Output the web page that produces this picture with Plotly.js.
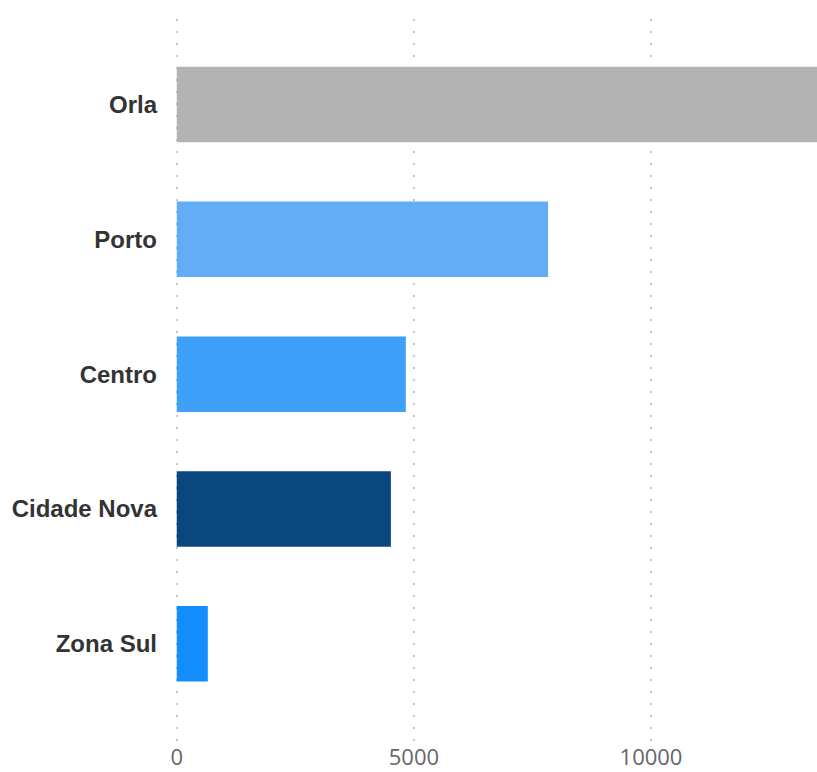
<!DOCTYPE html>
<html>
<head>
<meta charset="utf-8">
<script src="https://cdn.plot.ly/plotly-3.0.1.min.js"></script>
<style>html,body{margin:0;padding:0;background:#fff;}#chart{width:817px;height:772px;}</style>
</head>
<body>
<div id="chart"></div>
<script>
var categories = ["Orla", "Porto", "Centro", "Cidade Nova", "Zona Sul"];
var values = [13500, 7830, 4830, 4515, 655];
var barColors = ["#b3b3b3", "#61aef7", "#3fa0fa", "#0b477f", "#128dfe"];
var xTicks = [0, 5000, 10000];
var xTickLabels = ["0", "5000", "10000"];

var trace = {
  type: "bar",
  orientation: "h",
  x: values,
  y: categories,
  marker: {color: barColors},
  width: 0.56,
  hoverinfo: "x+y"
};

var layout = {
  width: 817,
  height: 772,
  margin: {l: 172, r: 0, t: 19, b: 31},
  paper_bgcolor: "#ffffff",
  plot_bgcolor: "#ffffff",
  showlegend: false,
  xaxis: {
    range: [-100, 13500],
    tickvals: xTicks,
    ticktext: xTickLabels,
    showgrid: true,
    gridcolor: "#c4c4c4",
    gridwidth: 2,
    griddash: "2px,10px",
    zeroline: false,
    showline: false,
    ticks: "",
    ticklabelstandoff: 1,
    tickfont: {family: "'Open Sans', sans-serif", size: 22, color: "#666666"}
  },
  yaxis: {
    type: "category",
    categoryorder: "array",
    categoryarray: categories,
    range: [4.721, -0.634],
    showgrid: false,
    zeroline: false,
    showline: false,
    ticks: "",
    ticklabelstandoff: 14,
    tickfont: {family: "'Liberation Sans', Arial, sans-serif", size: 24, color: "#333333", weight: "bold"}
  }
};

Plotly.newPlot("chart", [trace], layout, {displayModeBar: false, staticPlot: true});
</script>
</body>
</html>
